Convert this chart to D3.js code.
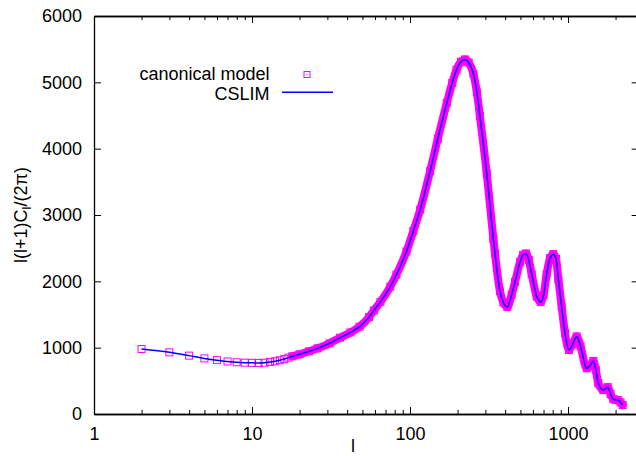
<!DOCTYPE html>
<html>
<head>
<meta charset="utf-8">
<script src="https://cdn.jsdelivr.net/npm/d3@7"></script>
<style>
  body { margin: 0; background: #fff; }
  text { font-family: "Liberation Sans", Arial, sans-serif; font-size: 18px; fill: #000; }
</style>
</head>
<body>
<div id="chart"></div>
<script>
// multipole l
const ells = [2, 3, 4, 5, 6, 7, 8, 9, 10, 11, 12, 13, 14, 15, 16, 17, 18, 20, 23, 26, 31, 36, 42, 48, 55, 59,
  65, 75, 82, 95, 105, 116, 134, 150, 171, 185, 197, 210, 223, 235, 252, 265, 277, 306, 337, 345, 371, 390,
  413, 440, 462, 497, 520, 542, 565, 589, 634, 672, 700, 733, 770, 807, 840, 869, 912, 957, 1014, 1070,
  1135, 1200, 1313, 1380, 1446, 1500, 1555, 1672, 1720, 1783, 1860, 1936, 2000, 2081, 2150, 2218];
// l(l+1)C_l/(2pi) at those l
const dl = [980, 930, 880, 838, 812, 792, 780, 774, 771, 770, 773, 785, 795, 810, 828, 850, 870, 900, 945,
  990, 1066, 1150, 1230, 1317, 1460, 1560, 1690, 1920, 2100, 2450, 2760, 3080, 3660, 4150, 4690, 4990,
  5190, 5310, 5345, 5300, 5130, 4850, 4490, 3630, 2640, 2420, 1850, 1680, 1615, 1800, 1990, 2290, 2400,
  2420, 2320, 2110, 1770, 1690, 1790, 2110, 2350, 2410, 2340, 2030, 1620, 1220, 965, 1050, 1170, 1020,
  690, 730, 800, 664, 465, 362, 380, 405, 300, 222, 215, 208, 175, 136];

const xTicks = [1, 10, 100, 1000];
const yTicks = [0, 1000, 2000, 3000, 4000, 5000, 6000];
const seriesNames = ["canonical model", "CSLIM"];

let width = 636,
  height = 456,
  margin = { top: 16, bottom: 42, left: 94 },
  decade = 158,
  xMax = 2800;

let data = ells.map((l, i) => ({ l: l, v: dl[i] }));

let xScale = d3.scaleLog()
  .domain([1, xMax])
  .range([margin.left, margin.left + decade * Math.log10(xMax)]);
let yScale = d3.scaleLinear()
  .domain([0, 6000])
  .range([height - margin.bottom, margin.top]);

let right = xScale.range()[1];
let bottom = yScale.range()[0];

let svg = d3.select("#chart")
  .append("svg")
  .attr("width", width)
  .attr("height", height);

// minor log ticks (2..9 in each decade)
let minor = xScale.ticks().filter(t => !xTicks.includes(t));

function styleAxis(g) {
  g.selectAll("path.domain").attr("stroke", "#000").attr("stroke-width", 1.3);
  g.selectAll(".tick line").attr("stroke", "#000").attr("stroke-width", 1);
  g.selectAll("text").attr("font-size", 18).attr("font-family", "Liberation Sans, Arial, sans-serif");
}

// bottom
svg.append("g")
  .attr("transform", `translate(0,${bottom})`)
  .call(d3.axisBottom(xScale).tickValues(xTicks).tickFormat(d3.format("d"))
    .tickSize(-7).tickSizeOuter(0).tickPadding(13))
  .call(styleAxis);
svg.append("g")
  .attr("transform", `translate(0,${bottom})`)
  .call(d3.axisBottom(xScale).tickValues(minor).tickFormat("").tickSize(-4).tickSizeOuter(0))
  .call(styleAxis);
// top mirror
svg.append("g")
  .attr("transform", `translate(0,${margin.top})`)
  .call(d3.axisTop(xScale).tickValues(xTicks).tickFormat("").tickSize(-7).tickSizeOuter(0))
  .call(styleAxis);
svg.append("g")
  .attr("transform", `translate(0,${margin.top})`)
  .call(d3.axisTop(xScale).tickValues(minor).tickFormat("").tickSize(-4).tickSizeOuter(0))
  .call(styleAxis);
// left
svg.append("g")
  .attr("transform", `translate(${margin.left},0)`)
  .call(d3.axisLeft(yScale).tickValues(yTicks).tickFormat(d3.format("d"))
    .tickSize(-7).tickSizeOuter(0).tickPadding(12))
  .call(styleAxis);
// right mirror
svg.append("g")
  .attr("transform", `translate(${right},0)`)
  .call(d3.axisRight(yScale).tickValues(yTicks).tickFormat("").tickSize(-7).tickSizeOuter(0))
  .call(styleAxis);

// axis titles
svg.append("text")
  .attr("transform", `translate(27,${(margin.top + bottom) / 2}) rotate(-90)`)
  .attr("text-anchor", "middle")
  .html('l(l+1)C<tspan font-size="13" dy="4">l</tspan><tspan dy="-4">/(2π)</tspan>');
svg.append("text")
  .attr("x", 353)
  .attr("y", 452)
  .attr("text-anchor", "middle")
  .text("l");

let line = d3.line()
  .x(d => xScale(d.l))
  .y(d => yScale(d.v))
  .curve(d3.curveMonotoneX);

// dense square markers merge into a solid band
svg.append("path")
  .datum(data.filter(d => d.l >= 18))
  .attr("d", line)
  .attr("fill", "none")
  .attr("stroke", "#ff00ff")
  .attr("stroke-width", 8)
  .attr("stroke-linejoin", "round")
  .attr("stroke-linecap", "round");

svg.selectAll("rect.pt")
  .data(data)
  .join("rect")
  .attr("class", "pt")
  .attr("x", d => xScale(d.l) - 3.5)
  .attr("y", d => yScale(d.v) - 3.5)
  .attr("width", 7)
  .attr("height", 7)
  .attr("fill", "none")
  .attr("stroke", "#ff00ff")
  .attr("stroke-width", 1);

svg.append("path")
  .datum(data)
  .attr("d", line)
  .attr("fill", "none")
  .attr("stroke", "#0000ff")
  .attr("stroke-width", 1.5);

// legend
let legend = svg.append("g");
legend.selectAll("text")
  .data(seriesNames)
  .join("text")
  .attr("x", 269.5)
  .attr("y", (d, i) => 79.5 + i * 20)
  .attr("text-anchor", "end")
  .text(d => d);
legend.append("rect")
  .attr("x", 304).attr("y", 71.5).attr("width", 6).attr("height", 6)
  .attr("fill", "none").attr("stroke", "#ff00ff").attr("stroke-width", 1);
legend.append("rect")
  .attr("x", 306.5).attr("y", 74).attr("width", 1).attr("height", 1)
  .attr("fill", "#ff00ff");
legend.append("line")
  .attr("x1", 282).attr("x2", 333).attr("y1", 92.3).attr("y2", 92.3)
  .attr("stroke", "#0000ff").attr("stroke-width", 1.5);
</script>
</body>
</html>
